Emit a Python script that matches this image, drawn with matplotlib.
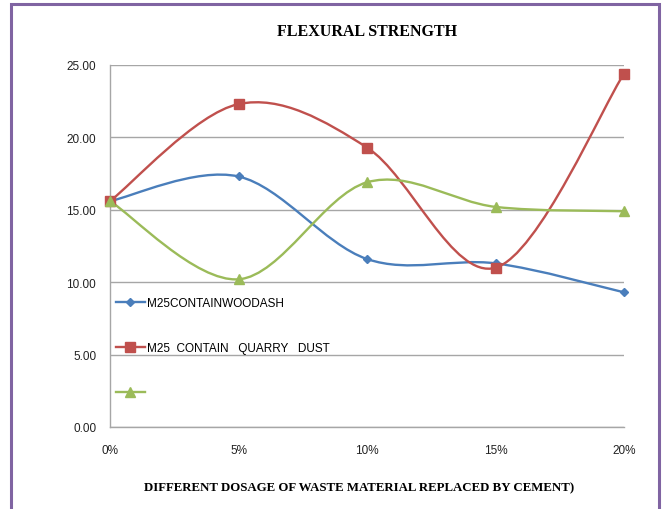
import matplotlib
matplotlib.use('Agg')
import matplotlib.pyplot as plt
from matplotlib.path import Path
from matplotlib.patches import PathPatch, Rectangle
from matplotlib.lines import Line2D

# dosage of waste material (% replacement)
dosage = [0, 5, 10, 15, 20]
dosage_labels = ['0%', '5%', '10%', '15%', '20%']

wood_ash = [15.6, 17.3, 11.6, 11.3, 9.3]
quarry_dust = [15.6, 22.3, 19.3, 11.0, 24.4]
third_mix = [15.6, 10.2, 16.9, 15.2, 14.9]

series_names = ['M25CONTAINWOODASH', 'M25  CONTAIN   QUARRY   DUST', '']
colors = ['#4a7ebb', '#c0504d', '#9bbb59']
markers = ['D', 's', '^']
msizes = [4.5, 6.5, 6.5]


def smooth_path(xs, ys):
    # cubic bezier through the points, like a spreadsheet "smoothed line"
    pts = list(zip(xs, ys))
    verts = [pts[0]]
    codes = [Path.MOVETO]
    n = len(pts)
    for i in range(n - 1):
        p0 = pts[i - 1] if i > 0 else pts[i]
        p1 = pts[i]
        p2 = pts[i + 1]
        p3 = pts[i + 2] if i + 2 < n else pts[i + 1]
        c1 = (p1[0] + (p2[0] - p0[0]) / 6, p1[1] + (p2[1] - p0[1]) / 6)
        c2 = (p2[0] - (p3[0] - p1[0]) / 6, p2[1] - (p3[1] - p1[1]) / 6)
        verts += [c1, c2, p2]
        codes += [Path.CURVE4] * 3
    return Path(verts, codes)


fig = plt.figure(figsize=(6.64, 5.10), dpi=100)
ax = fig.add_axes([0.1657, 0.1608, 0.7741, 0.7098])

for vals, c, m, ms in zip([wood_ash, quarry_dust, third_mix], colors, markers, msizes):
    ax.add_patch(PathPatch(smooth_path(dosage, vals), facecolor='none',
                           edgecolor=c, lw=1.7, clip_on=False, zorder=3))
    ax.plot(dosage, vals, linestyle='none', marker=m, markersize=ms,
            color=c, clip_on=False, zorder=4)

ax.set_xlim(0, 20)
ax.set_ylim(0, 25)
ax.set_yticks([0, 5, 10, 15, 20, 25])
ax.set_yticklabels(['%.2f' % v for v in [0, 5, 10, 15, 20, 25]])
ax.set_xticks(dosage)
ax.set_xticklabels(dosage_labels)
ax.yaxis.grid(True, color='#a6a6a6', lw=1.0)
ax.set_axisbelow(True)
for s in ['top', 'right']:
    ax.spines[s].set_visible(False)
for s in ['left', 'bottom']:
    ax.spines[s].set_color('#a6a6a6')
    ax.spines[s].set_linewidth(1.0)
ax.tick_params(length=0, labelsize=8.5, labelcolor='#222222')
ax.tick_params(axis='x', pad=12)
ax.tick_params(axis='y', pad=10)
for lab in ax.get_xticklabels() + ax.get_yticklabels():
    lab.set_family('Liberation Sans')

handles = [Line2D([], [], color=c, marker=m, markersize=ms, lw=1.7)
           for c, m, ms in zip(colors, markers, msizes)]
ax.legend(handles, series_names, loc='upper left', bbox_to_anchor=(0.012, 0.36),
          frameon=False, labelspacing=2.8, handlelength=2.4, handletextpad=0.25,
          borderpad=0, borderaxespad=0,
          prop={'family': 'Liberation Sans', 'size': 8.5})

fig.text(0.553, 0.938, 'FLEXURAL STRENGTH', ha='center', va='center',
         family='Liberation Serif', weight='bold', fontsize=11.5)
fig.text(0.541, 0.043, 'DIFFERENT DOSAGE OF WASTE MATERIAL REPLACED BY CEMENT)',
         ha='center', va='center', family='Liberation Serif', weight='bold', fontsize=9.3)

# outer chart border
fig.patches.append(Rectangle((0.016, -0.05), 0.976, 1.04, transform=fig.transFigure,
                             fill=False, edgecolor='#8064a2', lw=2.2))

fig.savefig('out.png', dpi=100)
